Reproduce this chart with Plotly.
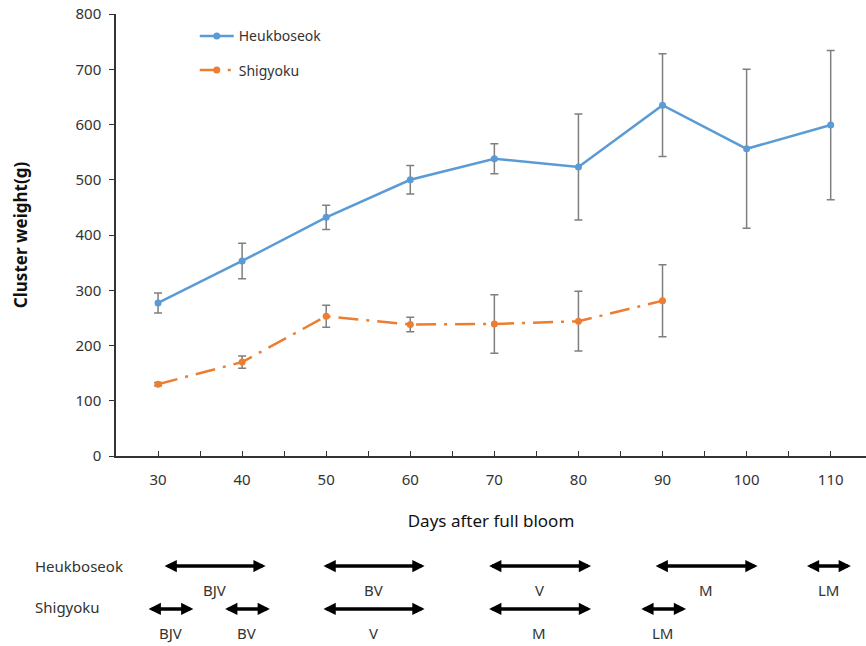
import plotly.graph_objects as go

days = [30, 40, 50, 60, 70, 80, 90, 100, 110]
heuk_mean = [277, 353, 432, 500, 538, 523, 635, 556, 599]
heuk_err = [18, 32, 22, 26, 27, 96, 93, 144, 135]
shig_days = [30, 40, 50, 60, 70, 80, 90]
shig_mean = [130, 170, 253, 238, 239, 244, 281]
shig_err = [3, 11, 20, 13, 53, 54, 65]

tick_vals = list(range(30, 115, 5))
tick_text = [str(v) if v % 10 == 0 else "" for v in tick_vals]

# Phenological stages: (start, end, label)
heuk_stages = [(30.6, 42.8, "BJV"), (49.5, 61.7, "BV"), (69.2, 81.5, "V"),
               (89.0, 101.3, "M"), (107.0, 112.4, "LM")]
shig_stages = [(28.7, 34.2, "BJV"), (37.8, 43.3, "BV"), (49.5, 61.7, "V"),
               (69.2, 81.5, "M"), (87.3, 92.8, "LM")]
row_names = ["Heukboseok", "Shigyoku"]

BLUE = "#5b9bd5"
ORANGE = "#ed7d31"
GRAY = "#7f7f7f"
FONT = "Noto Sans"
TXT = "#333333"

fig = go.Figure()
fig.add_trace(go.Scatter(
    x=days, y=heuk_mean, name="Heukboseok", mode="lines+markers",
    line=dict(color=BLUE, width=2.5), marker=dict(size=7, color=BLUE),
    error_y=dict(type="data", array=heuk_err, color=GRAY, thickness=1.5, width=4),
    legendgroup="a"))
fig.add_trace(go.Scatter(
    x=shig_days, y=shig_mean, name="Shigyoku", mode="lines+markers",
    line=dict(color=ORANGE, width=2.5, dash="20px,8px,3px,8px"),
    marker=dict(size=7, color=ORANGE),
    error_y=dict(type="data", array=shig_err, color=GRAY, thickness=1.5, width=4),
    legendgroup="b"))

annotations = []
rows = [(heuk_stages, 0.619, 0.429), (shig_stages, 0.278, 0.087)]
for stages, ya, yl in rows:
    for s, e, lab in stages:
        annotations.append(dict(
            x=e, y=ya, ax=s, ay=ya, xref="x", yref="y2", axref="x", ayref="y2",
            showarrow=True, arrowhead=2, arrowside="end+start", arrowsize=0.7,
            arrowwidth=3.5, arrowcolor="black", text=""))
        annotations.append(dict(
            x=(s + e) / 2, y=yl, xref="x", yref="y2", text=lab, showarrow=False,
            font=dict(family=FONT, size=15, color=TXT)))
for name, yv in zip(row_names, [0.619, 0.294]):
    annotations.append(dict(
        x=-0.111, y=yv, xref="paper", yref="y2", text=name, showarrow=False,
        xanchor="left", font=dict(family=FONT, size=15, color=TXT)))

fig.update_layout(
    width=866, height=646,
    margin=dict(l=116, r=0, t=14, b=2, autoexpand=False),
    plot_bgcolor="white", paper_bgcolor="white",
    font=dict(family=FONT, size=15, color=TXT),
    showlegend=True,
    legend=dict(x=0.105, y=0.99, xanchor="left", yanchor="top",
                bgcolor="rgba(0,0,0,0)", tracegroupgap=13, itemwidth=34,
                font=dict(family=FONT, size=14, color=TXT)),
    xaxis=dict(range=[25, 114.2], tickvals=tick_vals, ticktext=tick_text,
               ticks="inside", ticklen=5, tickcolor="#333", tickwidth=1.2,
               ticklabelstandoff=9, automargin=False, ticklabeloverflow="allow",
               showline=True, linecolor="#333", linewidth=1.5, showgrid=False,
               zeroline=False, anchor="y",
               title=dict(text="Days after full bloom", standoff=27,
                          font=dict(family=FONT, size=17, color="#111"))),
    yaxis=dict(domain=[0.2984, 1], range=[0, 800], dtick=100,
               ticks="outside", ticklen=5, tickcolor="#333", tickwidth=1.2,
               ticklabelstandoff=5, automargin=False, ticklabeloverflow="allow",
               showline=True, linecolor="#333", linewidth=1.5, showgrid=False,
               zeroline=False,
               title=dict(text="<b>Cluster weight(g)</b>", standoff=44,
                          font=dict(family=FONT, size=17, color="#111"))),
    yaxis2=dict(domain=[0, 0.2], range=[0, 1], visible=False, anchor="x",
                automargin=False),
    annotations=annotations,
)
fig.add_trace(go.Scatter(x=[None], y=[None], xaxis="x", yaxis="y2",
                         showlegend=False, hoverinfo="skip"))
fig.write_html("out.html", config={"displayModeBar": False},
               post_script="document.body.style.margin='0';document.body.style.overflow='hidden';")
